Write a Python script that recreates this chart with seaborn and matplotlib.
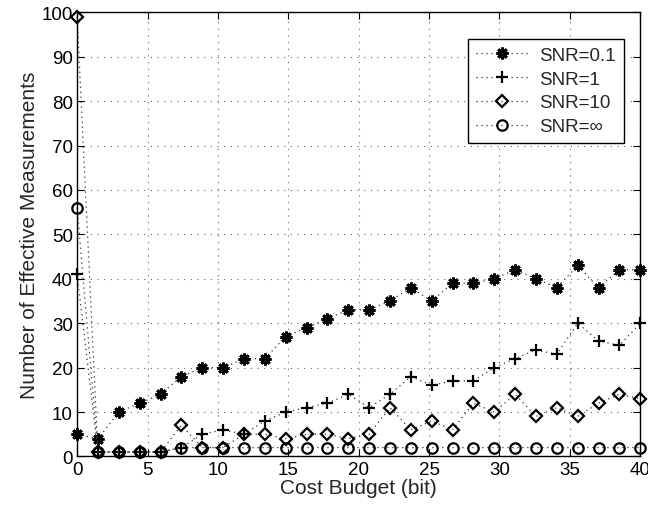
import numpy as np
import pandas as pd
import matplotlib
matplotlib.use("Agg")
import matplotlib.pyplot as plt
import seaborn as sns

# Cost budget grid: 28 evenly spaced budgets from 0 to 40 bits
budget = np.linspace(0, 40, 28)

snr_01 = [5, 4, 10, 12, 14, 18, 20, 20, 22, 22, 27, 29, 31, 33, 33, 35, 38, 35,
          39, 39, 40, 42, 40, 38, 43, 38, 42, 42]
snr_1 = [41, 1, 1, 1, 1, 2, 5, 6, 5, 8, 10, 11, 12, 14, 11, 14, 18, 16,
         17, 17, 20, 22, 24, 23, 30, 26, 25, 30]
snr_10 = [99, 1, 1, 1, 1, 7, 2, 2, 5, 5, 4, 5, 5, 4, 5, 11, 6, 8,
          6, 12, 10, 14, 9, 11, 9, 12, 14, 13]
snr_inf = [56, 1, 1, 1, 1, 2, 2, 2, 2, 2, 2, 2, 2, 2, 2, 2, 2, 2,
           2, 2, 2, 2, 2, 2, 2, 2, 2, 2]

labels = ["SNR=0.1", "SNR=1", "SNR=10", "SNR=\u221e"]
series = [snr_01, snr_1, snr_10, snr_inf]
markers = [(8, 2, 0), "+", "D", "o"]
msizes = [8.5, 9, 6.5, 7.5]
mwidths = [2.0, 1.6, 1.6, 1.6]

sns.set_style("ticks")
plt.rcParams["font.family"] = ["Liberation Sans", "DejaVu Sans"]
plt.rcParams["xtick.direction"] = "in"
plt.rcParams["ytick.direction"] = "in"

fig = plt.figure(figsize=(6.48, 5.10), dpi=100)
ax = fig.add_axes([0.119, 0.103, 0.869, 0.871])

for lab, vals, mk, ms, mw in zip(labels, series, markers, msizes, mwidths):
    df = pd.DataFrame({"budget": budget, "count": vals})
    sns.lineplot(data=df, x="budget", y="count", ax=ax, color="#333333",
                 linestyle=(0, (1, 3)), linewidth=0.9, marker=mk, markersize=ms,
                 markerfacecolor="none", markeredgecolor="black",
                 markeredgewidth=mw, label=lab, clip_on=False)

ax.set_xlim(0, 40)
ax.set_ylim(0, 100)
ax.set_xticks(np.arange(0, 41, 5))
ax.set_yticks(np.arange(0, 101, 10))
ax.tick_params(axis="both", labelsize=13.5, length=5, width=0.8,
               top=True, right=True, pad=3, colors="black")
ax.grid(True, linestyle=(0, (1, 5)), color="#666666", linewidth=0.8)
for sp in ax.spines.values():
    sp.set_linewidth(1.0)
    sp.set_color("black")

ax.set_xlabel("Cost Budget (bit)", fontsize=15, labelpad=0)
ax.set_ylabel("Number of Effective Measurements", fontsize=15, labelpad=2)

leg = ax.legend(loc="upper right", bbox_to_anchor=(0.987, 0.96), fontsize=13.5,
                frameon=True, fancybox=False, edgecolor="black", framealpha=1,
                handlelength=2.8, labelspacing=0.35, borderpad=0.4,
                handletextpad=0.6)
leg.get_frame().set_linewidth(1.0)

fig.savefig("out.png", dpi=100)
